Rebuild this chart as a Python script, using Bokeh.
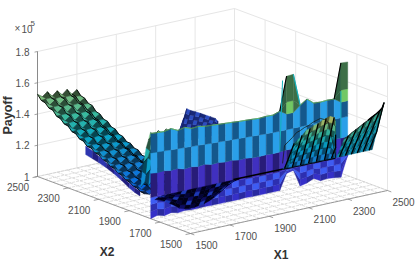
import math
import numpy as np
from bokeh.plotting import figure
from bokeh.models import ColumnDataSource
from bokeh.core.properties import value
from bokeh.embed import file_html
from bokeh.resources import INLINE

# ---------- tick labels ----------
x1_ticks = [1500, 1700, 1900, 2100, 2300, 2500]
x2_ticks = [1500, 1700, 1900, 2100, 2300, 2500]
z_ticks = [1.0, 1.2, 1.4, 1.6, 1.8]
z_tick_labels = ["1", "1.2", "1.4", "1.6", "1.8"]

# ---------- payoff surface readings (payoff in units of 1e5) ----------
# far ridge, X1 ~ 1500-1700, running down with X2
ridge_x1 = [1500, 1525, 1550, 1575, 1600, 1625, 1650, 1675, 1700]
ridge_x2 = [2500, 2475, 2450, 2425, 2400, 2375, 2350, 2325, 2300, 2275, 2250, 2225, 2200, 2175, 2150,
            2125, 2100, 2075, 2050, 2025, 2000, 1975, 1950, 1925, 1900, 1875, 1850, 1825, 1800]
ridge_z = [1.515, 1.497, 1.48, 1.465, 1.45, 1.432, 1.415, 1.40, 1.385, 1.37, 1.355, 1.34, 1.325, 1.312, 1.30,
           1.288, 1.275, 1.262, 1.25, 1.238, 1.225, 1.212, 1.20, 1.188, 1.175, 1.165, 1.155, 1.147, 1.14]
ridge_col_offset = [0.005, -0.005, 0.008, -0.015, 0.0, -0.02, -0.005, -0.03, -0.02]
ridge_row_jag = [0.006, -0.006, 0.005, -0.005, 0.006, -0.006, 0.005, -0.005, 0.006, -0.006, 0.005, -0.005, 0.006, -0.006, 0.005,
                 -0.005, 0.006, -0.006, 0.005, -0.005, 0.005, -0.005, 0.004, -0.004, 0.004, -0.004, 0.003, -0.003, 0.0]
ridge_level = [0.60, 0.58, 0.57, 0.55, 0.53, 0.50, 0.48, 0.45, 0.43, 0.41, 0.39, 0.37, 0.35, 0.33, 0.31,
               0.29, 0.27, 0.26, 0.25, 0.23, 0.22, 0.20, 0.19, 0.17, 0.15, 0.13, 0.11, 0.09, 0.07]

# blue underside of the ridge
under_x2 = [2185, 2140, 2100, 2050, 2000, 1950, 1900, 1865, 1830]
under_top = [1.31, 1.295, 1.275, 1.25, 1.225, 1.20, 1.175, 1.16, 1.15]
under_bot = [1.255, 1.245, 1.235, 1.22, 1.20, 1.175, 1.145, 1.13, 1.12]

# climb from the valley to the edge of the main wall
rise_x1 = [1500, 1520, 1540, 1560, 1580, 1600]
rise_x2 = [1762, 1775, 1790, 1805, 1815, 1825]
rise_z = [1.54, 1.51, 1.43, 1.356, 1.27, 1.19]
rise_level = [0.58, 0.55, 0.45, 0.35, 0.28, 0.20]

# blue peak behind the wall
peak_x2 = 2100
peak_x1 = [1875, 1890, 1905, 1925, 1950, 1975, 2000, 2025, 2050, 2075, 2104]
peak_top = [1.34, 1.40, 1.457, 1.44, 1.425, 1.408, 1.39, 1.373, 1.355, 1.335, 1.312]
peak_bot = 1.25

# main wall, nearly constant X2
wall_x2 = 1760
wall_x1 = [1500.0, 1534.5, 1569.0, 1603.4, 1637.9, 1672.4, 1706.9, 1741.4, 1775.9, 1810.3,
           1844.8, 1879.3, 1913.8, 1948.3, 1982.8, 2017.2, 2051.7, 2086.2, 2120.7, 2155.2,
           2189.7, 2224.1, 2258.6, 2293.1, 2327.6, 2362.1, 2396.6, 2431.0, 2465.5, 2500.0]
wall_bottom = [1.0, 1.012, 1.0, 1.01, 1.0, 1.005, 1.0, 1.0, 1.002, 1.0,
               1.0, 1.0, 1.0, 1.0, 1.002, 1.0, 1.0, 1.0, 1.0, 1.0,
               1.10, 1.11, 1.0, 1.01, 1.03, 1.005, 1.01, 1.005, 1.0, 1.13]
wall_purple_low = [1.135, 1.135, 1.132, 1.132, 1.13, 1.13, 1.128, 1.128, 1.126, 1.126,
                   1.125, 1.125, 1.124, 1.124, 1.122, 1.122, 1.12, 1.12, 1.12, 1.12,
                   1.125, 1.125, 1.125, 1.125, 1.125, 1.125, 1.125, 1.125, 1.13, 1.13]
wall_purple_high = [1.290, 1.285, 1.288, 1.280, 1.283, 1.270, 1.275, 1.268, 1.272, 1.262,
                    1.264, 1.258, 1.260, 1.252, 1.254, 1.248, 1.246, 1.248, 1.245, 1.246,
                    1.25, 1.25, 1.25, 1.25, 1.25, 1.25, 1.25, 1.25, 1.25, 1.25]
wall_mid = [1.420, 1.418, 1.415, 1.412, 1.41, 1.408, 1.405, 1.403, 1.40, 1.398,
            1.396, 1.394, 1.392, 1.39, 1.388, 1.386, 1.384, 1.382, 1.38, 1.38,
            1.38, 1.38, 1.38, 1.38, 1.38, 1.38, 1.38, 1.38, 1.38, 1.38]
wall_shoulder = [1.545, 1.542, 1.539, 1.548, 1.527, 1.537, 1.521, 1.524, 1.515, 1.513,
                 1.509, 1.506, 1.503, 1.499, 1.497, 1.494, 1.491, 1.494, 1.492, 1.508,
                 1.48, 1.48, 1.517, 1.547, 1.512, 1.509, 1.512, 1.509, 1.48, 1.48]
wall_green_mid = [1.545, 1.542, 1.539, 1.548, 1.527, 1.537, 1.521, 1.524, 1.515, 1.513,
                  1.509, 1.506, 1.503, 1.499, 1.497, 1.494, 1.491, 1.494, 1.492, 1.508,
                  1.557, 1.557, 1.517, 1.547, 1.512, 1.509, 1.512, 1.509, 1.557, 1.557]
wall_top = [1.545, 1.542, 1.539, 1.548, 1.527, 1.537, 1.521, 1.524, 1.515, 1.513,
            1.509, 1.506, 1.503, 1.499, 1.497, 1.494, 1.491, 1.494, 1.492, 1.508,
            1.722, 1.725, 1.517, 1.547, 1.512, 1.509, 1.512, 1.509, 1.731, 1.728]

# dark fine mesh at the foot of the wall
mesh_x2 = 1745
mesh_x1 = [1525, 1550, 1575, 1600, 1625, 1650, 1675, 1700, 1725, 1750, 1775, 1800, 1825, 1850, 1875, 1900, 1920]
mesh_low = [1.125, 1.115, 1.10, 1.08, 1.06, 1.035, 1.025, 1.02, 1.02, 1.025, 1.03, 1.04, 1.055, 1.075, 1.095, 1.12, 1.14]
mesh_high = [1.14, 1.14, 1.14, 1.14, 1.14, 1.14, 1.14, 1.14, 1.14, 1.14, 1.14, 1.14, 1.14, 1.14, 1.14, 1.14, 1.14]

# front hump
hump_x2 = 1600
hump_x1 = [2045, 2055, 2075, 2095, 2116, 2136, 2156, 2177, 2197, 2217, 2237, 2258, 2278, 2293, 2304, 2314]
hump_top = [1.262, 1.374, 1.394, 1.414, 1.440, 1.448, 1.461, 1.468, 1.482, 1.490, 1.497, 1.484, 1.460, 1.372, 1.299, 1.226]
hump_bot = 1.226

# front right sheet
sheet_x1 = [2319, 2334, 2349, 2364, 2379, 2394, 2409, 2424, 2439, 2454, 2469, 2484, 2500]
sheet_top_x2 = [1600, 1594, 1588, 1581, 1575, 1568, 1562, 1555, 1548, 1542, 1535, 1528, 1522]
sheet_top_z = [1.333, 1.35, 1.37, 1.388, 1.405, 1.425, 1.44, 1.46, 1.478, 1.498, 1.515, 1.535, 1.555]
sheet_x2 = 1600
sheet_bot = 1.225

crease_x1 = [1920, 2438]
crease_z = [1.135, 1.13]

# ---------- colours ----------
parula_pos = [0.0, 0.13, 0.25, 0.38, 0.50, 0.63, 0.75, 0.88, 1.0]
parula_rgb = [(53, 42, 135), (3, 99, 225), (20, 133, 212), (6, 167, 198), (56, 185, 158),
              (146, 191, 115), (217, 186, 86), (252, 206, 46), (249, 251, 14)]
wall_colors = [("#3530c8", "#2a2aa0"), ("#3e5cf2", "#2d2fb0"), ("#3e5cf2", "#2d2fb0"),
               ("#4030c0", "#281c78"), ("#2a9fe8", "#14588c"), ("#2a9fe8", "#14588c"),
               ("#72c864", "#3d6f47"), ("#72c864", "#3d6f47")]


def parula(c, shade=1.0):
    rgb = [np.interp(c, parula_pos, [q[k] for q in parula_rgb]) * shade for k in range(3)]
    return "#%02x%02x%02x" % tuple(int(min(255, v)) for v in rgb)


# ---------- view (orthographic, as the axes box is drawn) ----------
def proj(x1, x2, z):
    a = np.asarray(x1, float) - 1500
    b = np.asarray(x2, float) - 1500
    zz = np.asarray(z, float) - 1
    return 190 + 0.197 * a - 0.153 * b, 233 - 0.043 * a - 0.057 * b - 156.25 * zz


p = figure(width=415, height=266, x_range=(0, 415), y_range=(266, 0),
           output_backend="svg", toolbar_location=None, min_border=0,
           outline_line_color=None)
p.axis.visible = False
p.xgrid.visible = False
p.ygrid.visible = False
p.background_fill_color = "white"


def seg(points, color, width=1.0, dash="solid"):
    xs, ys = [], []
    for a, b in points:
        xa, ya = proj(*a)
        xb, yb = proj(*b)
        xs.append([float(xa), float(xb)])
        ys.append([float(ya), float(yb)])
    p.multi_line(xs, ys, line_color=color, line_width=width, line_dash=dash)


def facets(X1, X2, Z, colorfn, edge=True):
    X1, X2, Z = map(np.asarray, (X1, X2, Z))
    PX, PY = proj(X1, X2, Z)
    xs, ys, cs = [], [], []
    r, c = Z.shape
    for i in range(r - 1):
        for j in range(c - 1):
            xs.append([PX[i, j], PX[i, j + 1], PX[i + 1, j + 1], PX[i + 1, j]])
            ys.append([PY[i, j], PY[i, j + 1], PY[i + 1, j + 1], PY[i + 1, j]])
            cs.append(colorfn(i, j))
    src = ColumnDataSource(dict(x=[list(map(float, q)) for q in xs],
                                y=[list(map(float, q)) for q in ys], c=cs))
    p.patches("x", "y", source=src, fill_color="c", line_color="c", line_width=0.4)


def hatch(X1, X2, Z, step=2, start=0, color="#000000", width=0.8):
    X1, X2, Z = map(np.asarray, (X1, X2, Z))
    PX, PY = proj(X1, X2, Z)
    p.multi_line([list(map(float, PX[:, j])) for j in range(start, Z.shape[1], step)],
                 [list(map(float, PY[:, j])) for j in range(start, Z.shape[1], step)],
                 line_color=color, line_width=width)


# ---------- axes box ----------
wall_grid = "#e6e6e6"
floor_grid = "#c8c8c8"
box = []
for t in x1_ticks:
    box.append(((t, 2500, 1.0), (t, 2500, 1.8)))
for t in x2_ticks:
    box.append(((2500, t, 1.0), (2500, t, 1.8)))
for z in z_ticks:
    box.append(((1500, 2500, z), (2500, 2500, z)))
    box.append(((2500, 2500, z), (2500, 1500, z)))
seg(box, wall_grid, 1.0)
floor_lines = []
for t in range(1500, 2501, 50):
    floor_lines.append(((t, 1500, 1.0), (t, 2500, 1.0)))
    floor_lines.append(((1500, t, 1.0), (2500, t, 1.0)))
seg(floor_lines, floor_grid, 0.6, "3 1")
edge_gray = "#7a7a7a"
seg([((1500, 2500, 1.0), (1500, 2500, 1.8))], "#8a8a8a", 1.0)
seg([((1500, 2500, 1.0), (1500, 1500, 1.0)), ((1500, 1500, 1.0), (2500, 1500, 1.0))], edge_gray, 0.7)
tk = []
for t in x1_ticks:
    tk.append(((t, 1500, 1.0), (t, 1475, 1.0)))
for t in x2_ticks:
    tk.append(((1500, t, 1.0), (1475, t, 1.0)))
for z in z_ticks:
    tk.append(((1500, 2500, z), (1485, 2500, z)))
seg(tk, edge_gray, 0.7)

# ---------- blue peak ----------
rows = 7
peak_Z = [[peak_bot + (t - peak_bot) * k / rows for t in peak_top] for k in range(rows + 1)]
peak_X1 = [[v + 6 * k for v in peak_x1] for k in range(rows + 1)]
peak_X1 = [[min(v, 2104) for v in r] for r in peak_X1]
peak_X2 = [[peak_x2] * len(peak_x1) for _ in range(rows + 1)]
facets(peak_X1, peak_X2, peak_Z, lambda i, j: "#2c4cc0" if (i + j) % 2 == 0 else "#182878")
hatch(peak_X1, peak_X2, peak_Z, 1, 0, "#0c1450", 0.7)

# ---------- far ridge ----------
ridge_Z = [[ridge_z[i] + ridge_col_offset[j] + ridge_row_jag[i] * (1 if j % 2 == 0 else -1)
            for j in range(len(ridge_x1))] for i in range(len(ridge_x2))]
ridge_X1 = [ridge_x1 for _ in ridge_x2]
ridge_X2 = [[v] * len(ridge_x1) for v in ridge_x2]
facets(ridge_X1, ridge_X2, ridge_Z,
       lambda i, j: parula(ridge_level[i], 1.0 if (i + j) % 2 == 0 else 0.42))
hatch(np.transpose(ridge_X1).tolist(), np.transpose(ridge_X2).tolist(), np.transpose(ridge_Z).tolist(), 1, 0, "#000000", 0.3)
hatch(ridge_X1, ridge_X2, ridge_Z, 2, 0, "#000000", 0.9)
hatch(ridge_X1, ridge_X2, ridge_Z, 8, 7, "#000000", 0.9)

# underside
under_X2 = [under_x2, under_x2]
under_X1 = [[1500] * len(under_x2), [1500] * len(under_x2)]
facets(under_X1, under_X2, [under_bot, under_top],
       lambda i, j: "#2e36b0" if j % 2 == 0 else "#221f80")

# ---------- climb to the wall ----------
rise_Z = [[rise_z[i] + (0.012 if (i + j) % 2 == 0 else -0.012) for j in range(len(rise_x1))] for i in range(len(rise_x2))]
rise_X1 = [rise_x1 for _ in rise_x2]
rise_X2 = [[v] * len(rise_x1) for v in rise_x2]
facets(rise_X1, rise_X2, rise_Z, lambda i, j: parula(rise_level[i], 1.0 if (i + j) % 2 == 0 else 0.45))
hatch(np.transpose(rise_X1).tolist(), np.transpose(rise_X2).tolist(), np.transpose(rise_Z).tolist(), 1, 0, "#000000", 0.4)

# ---------- main wall ----------
w1 = [b + (l - b) / 3 for b, l in zip(wall_bottom, wall_purple_low)]
w2 = [b + 2 * (l - b) / 3 for b, l in zip(wall_bottom, wall_purple_low)]
wall_Z = [wall_bottom, w1, w2, wall_purple_low, wall_purple_high, wall_mid, wall_shoulder, wall_green_mid, wall_top]
wall_X1 = [wall_x1 for _ in wall_Z]
wall_X2 = [[wall_x2] * len(wall_x1) for _ in wall_Z]


def wall_color(i, j):
    if i >= 6 and j in (19, 27):
        return "#2e5f42"
    if i >= 6 and j == 21:
        return "#3d6f47"
    return wall_colors[i][0 if (i + j) % 2 == 0 else 1]


facets(wall_X1, wall_X2, wall_Z, wall_color)

# steep spike flanks
flank_black = [(19, 20), (27, 28)]
flank_cyan = [(21, 22)]
seg([((wall_x1[a], wall_x2, wall_top[a]), (wall_x1[b], wall_x2, wall_top[b])) for a, b in flank_black], "#000000", 1.1)
seg([((wall_x1[a], wall_x2, wall_top[a]), (wall_x1[b], wall_x2, wall_top[b])) for a, b in flank_cyan], "#14b0bc", 1.2)
seg([((wall_x1[19], wall_x2, 1.25), (wall_x1[19] + 14, wall_x2, 1.70))], "#14b0bc", 1.0)
seg([((wall_x1[28], wall_x2, 1.25), (wall_x1[28], wall_x2, 1.55))], "#14b0bc", 1.0)

# ---------- dark mesh ----------
mrows = 5
mesh_Z = [[l + (h - l) * k / mrows for l, h in zip(mesh_low, mesh_high)] for k in range(mrows + 1)]
mesh_X1 = [[v + 8 * (k - 2) for v in mesh_x1] for k in range(mrows + 1)]
mesh_X2 = [[mesh_x2] * len(mesh_x1) for _ in range(mrows + 1)]
mesh_cols = ["#04043a", "#000018", "#1c38b4", "#000018", "#000018", "#0c0c60", "#000018"]
facets(mesh_X1, mesh_X2, mesh_Z, lambda i, j: mesh_cols[(i * 3 + j) % 7])

# ---------- crease along the wall foot ----------
seg([((crease_x1[0], wall_x2, crease_z[0]), (crease_x1[1], wall_x2, crease_z[1]))], "#000000", 1.6)

# ---------- front hump ----------
hrows = 7
hump_Z = [[hump_bot + (t - hump_bot) * k / hrows for t in hump_top] for k in range(hrows + 1)]
hump_X1 = [[v + 7 * k for v in hump_x1] for k in range(hrows + 1)]
hump_X1 = [[min(v, 2314) for v in r] for r in hump_X1]
hump_X2 = [[hump_x2] * len(hump_x1) for _ in range(hrows + 1)]
hump_z_lv = [1.226, 1.30, 1.40, 1.50]
hump_c_lv = [0.22, 0.33, 0.50, 0.74]


def hump_color(i, j):
    z = np.mean([hump_Z[i][j], hump_Z[i + 1][j], hump_Z[i][j + 1], hump_Z[i + 1][j + 1]])
    return parula(float(np.interp(z, hump_z_lv, hump_c_lv)), 0.95 if (i + j) % 2 == 0 else 0.5)


facets(hump_X1, hump_X2, hump_Z, hump_color)
hatch(hump_X1, hump_X2, hump_Z, 2, 1, "#000000", 1.3)
hatch(np.transpose(hump_X1).tolist(), np.transpose(hump_X2).tolist(), np.transpose(hump_Z).tolist(), 2, 0, "#000000", 0.3)
hx, hy = proj(hump_x1, [hump_x2] * len(hump_x1), hump_top)
p.line(hx.tolist(), hy.tolist(), line_color="#141408", line_width=0.7)

# ---------- front sheet ----------
srows = 5
sheet_Z = [[sheet_bot + (t - sheet_bot) * k / srows for t in sheet_top_z] for k in range(srows + 1)]
sheet_X2 = [[sheet_x2 + (t - sheet_x2) * k / srows for t in sheet_top_x2] for k in range(srows + 1)]
sheet_X1 = [[v + 8 * k for v in sheet_x1] for k in range(srows + 1)]
sheet_X1 = [[min(v, 2500) for v in r] for r in sheet_X1]
sheet_levels = [0.34, 0.36, 0.39, 0.43, 0.50]
facets(sheet_X1, sheet_X2, sheet_Z, lambda i, j: parula(sheet_levels[i], 0.85 if (i + j) % 2 == 0 else 0.5))
hatch(sheet_X1, sheet_X2, sheet_Z, 2, 1, "#000000", 1.3)
tx, ty = proj(sheet_X1[-1], sheet_X2[-1], sheet_Z[-1])
p.line(tx.tolist(), ty.tolist(), line_color="#101010", line_width=0.8)
p.line(tx[6:].tolist(), ty[6:].tolist(), line_color="#000000", line_width=1.5)

# ---------- text ----------
ink = "#505050"
font = value("Liberation Sans")
lx, ly = proj(x1_ticks, [1500] * len(x1_ticks), [1.0] * len(x1_ticks))
p.text((lx + 16).tolist(), (ly + 11.5).tolist(), text=[str(t) for t in x1_ticks], text_font=font,
       text_font_size="10px", text_color=ink, text_align="center", text_baseline="middle")
lx, ly = proj([1500] * len(x2_ticks), x2_ticks, [1.0] * len(x2_ticks))
p.text((lx - 19.5).tolist(), (ly + 10.5).tolist(), text=[str(t) for t in x2_ticks], text_font=font,
       text_font_size="10px", text_color=ink, text_align="center", text_baseline="middle")
lx, ly = proj([1500] * len(z_ticks), [2500] * len(z_ticks), z_ticks)
p.text((lx - 8).tolist(), ly.tolist(), text=z_tick_labels, text_font=font,
       text_font_size="10px", text_color=ink, text_align="right", text_baseline="middle")
p.text([14, 21], [28, 28], text=["×", "10"], text_font=font, text_font_size="10px",
       text_color=ink, text_baseline="middle")
p.text([30], [23], text=["5"], text_font=font, text_font_size="8px", text_color=ink, text_baseline="middle")
p.text([106.5, 280.5], [251, 254], text=["X2", "X1"], text_font=font, text_font_style="bold",
       text_font_size="12px", text_color="#333333", text_align="center", text_baseline="middle")
p.text([7.5], [115], text=["Payoff"], angle=math.pi / 2, text_font=font, text_font_style="bold",
       text_font_size="12.5px", text_color="#333333", text_align="center", text_baseline="middle")

open("out.html", "w").write(file_html(p, INLINE))
